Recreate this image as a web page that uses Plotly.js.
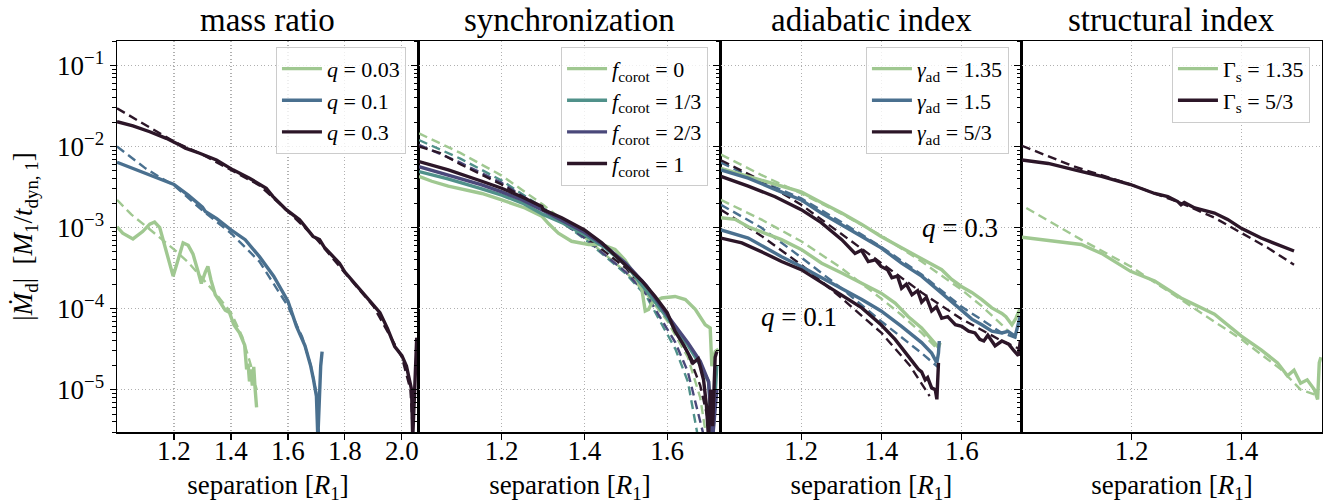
<!DOCTYPE html>
<html>
<head>
<meta charset="utf-8">
<script src="https://cdn.plot.ly/plotly-3.0.1.min.js"></script>
<style>
html,body{margin:0;padding:0;background:#fff;}
#chart{width:1323px;height:504px;}
</style>
</head>
<body>
<div id="chart"></div>
<script>
// ---------- Panel 1: mass ratio ----------
const sepQ003 = [1.0,1.02,1.056,1.09,1.115,1.132,1.15,1.175,1.197,1.21,1.232,1.25,1.267,1.285,1.296,1.31,1.319,1.33,1.345,1.36,1.38,1.395,1.41,1.43,1.448,1.455,1.46,1.465,1.47,1.475,1.48,1.485,1.49];
const mdotQ003 = [1.02e-3,8.51e-4,7.24e-4,8.91e-4,1.10e-3,1.17e-3,1.0e-3,5.0e-4,2.51e-4,3.55e-4,6.46e-4,6.03e-4,4.68e-4,2.82e-4,2.04e-4,2.82e-4,3.31e-4,2.24e-4,1.48e-4,1.23e-4,9.55e-5,8.91e-5,6.31e-5,5.01e-5,3.55e-5,1.78e-5,2.09e-5,1.26e-5,1.78e-5,1.12e-5,1.91e-5,1.0e-5,6.03e-6];
const sepQ003Fit = [1.0,1.05,1.1,1.15,1.2,1.25,1.3,1.35,1.4,1.44,1.47,1.49];
const mdotQ003Fit = [2.19e-3,1.45e-3,1.05e-3,7.59e-4,5.37e-4,3.72e-4,2.34e-4,1.48e-4,8.91e-5,4.47e-5,2.0e-5,1.0e-5];

const sepQ01 = [1.0,1.1,1.2,1.25,1.3,1.31,1.35,1.4,1.45,1.5,1.55,1.6,1.63,1.66,1.68,1.69,1.70,1.705,1.71,1.715,1.72];
const mdotQ01 = [6.38e-3,4.68e-3,3.39e-3,2.51e-3,1.78e-3,1.58e-3,1.29e-3,9.33e-4,7.08e-4,4.37e-4,2.51e-4,1.23e-4,6.03e-5,3.47e-5,1.95e-5,1.32e-5,8.32e-6,2.51e-6,7.59e-6,1.95e-5,2.95e-5];
const sepQ01Fit = [1.0,1.05,1.1,1.15,1.2,1.3,1.4,1.5,1.6,1.65,1.68,1.7,1.71];
const mdotQ01Fit = [1.0e-2,7.24e-3,5.37e-3,4.17e-3,3.31e-3,1.62e-3,8.51e-4,3.80e-4,1.07e-4,4.47e-5,2.0e-5,8.91e-6,2.51e-6];

const sepQ03 = [1.0,1.056,1.115,1.173,1.22,1.24,1.29,1.349,1.407,1.465,1.524,1.547,1.594,1.641,1.688,1.711,1.729,1.746,1.781,1.80,1.85,1.90,1.923,1.95,1.975,2.0,2.016,2.034,2.038,2.045,2.052,2.056];
const mdotQ03 = [2.02e-2,1.79e-2,1.52e-2,1.26e-2,1.045e-2,9.55e-3,8.24e-3,6.82e-3,5.14e-3,4.06e-3,3.05e-3,2.42e-3,1.66e-3,1.245e-3,7.76e-4,7.08e-4,5.62e-4,4.84e-4,3.63e-4,2.82e-4,1.78e-4,1.12e-4,8.91e-5,5.62e-5,3.39e-5,2.63e-5,1.95e-5,1.0e-5,2.51e-6,1.0e-5,4.37e-5,2.51e-5];
const sepQ03Fit = [1.0,1.05,1.1,1.15,1.2,1.3,1.4,1.5,1.6,1.7,1.8,1.9,2.0,2.03,2.04];
const mdotQ03Fit = [2.95e-2,2.34e-2,1.82e-2,1.45e-2,1.15e-2,7.94e-3,5.13e-3,3.31e-3,1.58e-3,7.24e-4,2.75e-4,1.07e-4,2.51e-5,1.0e-5,2.51e-6];

// ---------- Panel 2: synchronization ----------
const sepF0 = [1.0,1.031,1.071,1.152,1.2,1.256,1.297,1.313,1.337,1.369,1.41,1.442,1.474,1.498,1.523,1.539,1.547,1.555,1.563,1.587,1.619,1.644,1.668,1.692,1.704,1.708,1.716,1.724];
const mdotF0 = [4.27e-3,3.72e-3,3.24e-3,2.63e-3,2.19e-3,1.74e-3,1.38e-3,1.12e-3,8.51e-4,6.76e-4,6.17e-4,6.17e-4,5.37e-4,3.98e-4,2.51e-4,1.70e-4,9.33e-5,9.77e-5,1.17e-4,1.35e-4,1.41e-4,1.29e-4,9.77e-5,6.31e-5,5.75e-5,1.95e-5,2.95e-5,3.16e-5];
const sepF13 = [1.0,1.07,1.15,1.2,1.25,1.3,1.35,1.4,1.45,1.5,1.55,1.6,1.65,1.68,1.70,1.71,1.72];
const mdotF13 = [4.90e-3,3.98e-3,3.02e-3,2.51e-3,2.0e-3,1.45e-3,1.12e-3,8.13e-4,5.62e-4,3.47e-4,1.66e-4,7.59e-5,3.55e-5,2.0e-5,1.26e-5,2.51e-6,2.0e-5];
const sepF23 = [1.0,1.07,1.15,1.2,1.25,1.3,1.35,1.4,1.45,1.5,1.55,1.6,1.65,1.68,1.70,1.71,1.72];
const mdotF23 = [5.62e-3,4.47e-3,3.39e-3,2.75e-3,2.19e-3,1.62e-3,1.20e-3,8.71e-4,5.89e-4,3.63e-4,1.91e-4,8.32e-5,3.80e-5,2.24e-5,1.26e-5,2.51e-6,1.0e-5];
const sepF1 = [1.0,1.071,1.152,1.2,1.248,1.297,1.30,1.345,1.4,1.442,1.49,1.539,1.571,1.6,1.619,1.64,1.663,1.675,1.688,1.695,1.70,1.705,1.71,1.716,1.72];
const mdotF1 = [6.52e-3,5.13e-3,3.72e-3,3.05e-3,2.40e-3,1.82e-3,1.66e-3,1.32e-3,9.33e-4,6.46e-4,3.80e-4,2.19e-4,1.41e-4,8.91e-5,5.25e-5,3.55e-5,2.14e-5,2.40e-5,1.32e-5,6.31e-6,2.51e-6,1.0e-5,3.55e-6,2.51e-5,2.95e-5];

const sepF0Fit = [1.0,1.1,1.2,1.3,1.4,1.5,1.55,1.6,1.65,1.68,1.695];
const mdotF0Fit = [1.45e-2,8.32e-3,4.37e-3,1.91e-3,7.59e-4,2.82e-4,1.51e-4,7.08e-5,2.51e-5,7.94e-6,2.51e-6];
const sepF13Fit = [1.0,1.1,1.2,1.3,1.4,1.5,1.55,1.583,1.62,1.65,1.663,1.675];
const mdotF13Fit = [1.20e-2,7.08e-3,3.80e-3,1.74e-3,7.24e-4,2.69e-4,1.41e-4,6.92e-5,3.16e-5,1.26e-5,5.13e-6,2.51e-6];
const sepF23Fit = [1.0,1.1,1.2,1.3,1.4,1.5,1.55,1.583,1.62,1.65,1.68,1.69];
const mdotF23Fit = [1.05e-2,6.31e-3,3.55e-3,1.70e-3,7.41e-4,2.82e-4,1.48e-4,7.94e-5,3.80e-5,1.66e-5,4.27e-6,2.51e-6];
const sepF1Fit = [1.0,1.05,1.1,1.2,1.3,1.4,1.5,1.55,1.6,1.65,1.68,1.7,1.705];
const mdotF1Fit = [1.0e-2,8.32e-3,6.03e-3,3.39e-3,1.70e-3,7.94e-4,3.16e-4,1.66e-4,7.94e-5,2.82e-5,1.12e-5,3.98e-6,2.51e-6];

// ---------- Panel 3: adiabatic index (q = 0.3 and q = 0.1) ----------
const sepG135q03 = [1.0,1.068,1.15,1.2,1.25,1.301,1.35,1.399,1.45,1.50,1.55,1.575,1.60,1.625,1.65,1.675,1.70,1.71,1.725,1.735,1.745];
const mdotG135q03 = [5.37e-3,4.27e-3,3.31e-3,2.75e-3,2.04e-3,1.51e-3,1.10e-3,7.76e-4,5.62e-4,4.17e-4,3.02e-4,2.29e-4,1.86e-4,1.58e-4,1.29e-4,1.02e-4,8.71e-5,7.94e-5,6.31e-5,7.59e-5,1.0e-4];
const sepG135q03Fit = [1.0,1.1,1.2,1.3,1.4,1.5,1.6,1.65,1.7,1.72];
const mdotG135q03Fit = [7.94e-3,4.47e-3,2.63e-3,1.48e-3,7.94e-4,3.80e-4,1.70e-4,1.07e-4,6.31e-5,5.01e-5];
const sepG15q03 = [1.0,1.068,1.13,1.2,1.25,1.301,1.35,1.399,1.45,1.50,1.55,1.60,1.625,1.65,1.675,1.70,1.715,1.733,1.741,1.746];
const mdotG15q03 = [5.13e-3,4.07e-3,3.02e-3,2.19e-3,1.51e-3,1.07e-3,7.76e-4,5.62e-4,3.63e-4,2.51e-4,1.55e-4,9.33e-5,7.41e-5,6.31e-5,5.25e-5,5.01e-5,5.25e-5,4.57e-5,6.31e-5,8.13e-5];
const sepG15q03Fit = [1.0,1.1,1.2,1.3,1.4,1.5,1.6,1.7,1.745];
const mdotG15q03Fit = [6.31e-3,3.72e-3,2.29e-3,1.17e-3,5.75e-4,2.63e-4,1.05e-4,5.01e-5,4.17e-5];
const sepG53q03 = [1.0,1.068,1.135,1.2,1.25,1.301,1.334,1.35,1.367,1.385,1.399,1.415,1.426,1.44,1.45,1.462,1.476,1.49,1.50,1.512,1.525,1.537,1.55,1.565,1.584,1.60,1.617,1.633,1.645,1.655,1.665,1.683,1.70,1.717,1.73,1.741,1.746];
const mdotG53q03 = [4.27e-3,3.24e-3,2.40e-3,1.66e-3,1.15e-3,7.08e-4,4.79e-4,5.25e-4,3.80e-4,3.98e-4,3.31e-4,3.02e-4,2.40e-4,2.51e-4,1.78e-4,2.0e-4,1.48e-4,1.66e-4,1.20e-4,1.38e-4,9.33e-5,1.05e-4,7.59e-5,7.94e-5,6.31e-5,6.03e-5,5.25e-5,5.01e-5,4.17e-5,3.98e-5,4.68e-5,3.47e-5,3.98e-5,3.63e-5,3.02e-5,2.63e-5,3.98e-5];
const sepG53q03Fit = [1.0,1.1,1.2,1.3,1.4,1.5,1.6,1.7,1.745];
const mdotG53q03Fit = [6.76e-3,3.80e-3,1.91e-3,8.32e-4,3.72e-4,1.58e-4,7.41e-5,3.98e-5,3.16e-5];

const sepG135q01 = [1.0,1.035,1.068,1.11,1.151,1.2,1.251,1.301,1.351,1.399,1.434,1.467,1.50,1.525,1.542,1.546];
const mdotG135q01 = [1.32e-3,1.26e-3,1.02e-3,8.51e-4,7.08e-4,5.37e-4,3.63e-4,2.75e-4,2.04e-4,1.55e-4,1.17e-4,7.94e-5,5.75e-5,4.17e-5,3.31e-5,3.80e-5];
const sepG135q01Fit = [1.0,1.1,1.2,1.3,1.4,1.45,1.5,1.54];
const mdotG135q01Fit = [2.19e-3,1.26e-3,6.76e-4,3.16e-4,1.32e-4,8.32e-5,5.01e-5,3.16e-5];
const sepG15q01 = [1.0,1.068,1.151,1.2,1.251,1.301,1.351,1.399,1.45,1.50,1.525,1.538,1.542,1.544];
const mdotG15q01 = [9.33e-4,7.41e-4,4.37e-4,3.31e-4,2.40e-4,1.78e-4,1.29e-4,9.33e-5,6.03e-5,3.80e-5,2.82e-5,2.14e-5,2.82e-5,3.98e-5];
const sepG15q01Fit = [1.0,1.1,1.2,1.3,1.4,1.5,1.54];
const mdotG15q01Fit = [1.91e-3,1.0e-3,4.27e-4,1.78e-4,6.92e-5,2.82e-5,1.91e-5];
const sepG53q01 = [1.0,1.052,1.11,1.151,1.2,1.251,1.301,1.351,1.399,1.434,1.467,1.492,1.50,1.509,1.515,1.525,1.534,1.538,1.542];
const mdotG53q01 = [7.41e-4,6.46e-4,4.79e-4,3.80e-4,3.02e-4,2.09e-4,1.48e-4,1.02e-4,6.31e-5,4.17e-5,2.57e-5,1.78e-5,1.66e-5,1.32e-5,1.41e-5,1.05e-5,1.0e-5,7.59e-6,2.14e-5];
const sepG53q01Fit = [1.0,1.1,1.2,1.3,1.4,1.47,1.52];
const mdotG53q01Fit = [1.66e-3,7.94e-4,3.47e-4,1.35e-4,5.01e-5,2.0e-5,8.32e-6];

// ---------- Panel 4: structural index ----------
const sepS135 = [1.0,1.06,1.108,1.145,1.198,1.242,1.29,1.351,1.375,1.40,1.436,1.466,1.484,1.496,1.508,1.52,1.533,1.539,1.542,1.545];
const mdotS135 = [7.59e-4,6.76e-4,6.17e-4,4.79e-4,2.88e-4,2.19e-4,1.35e-4,8.51e-5,6.31e-5,4.57e-5,3.09e-5,2.14e-5,1.48e-5,1.74e-5,1.20e-5,1.32e-5,1.0e-5,7.59e-6,2.14e-5,2.51e-5];
const sepS135Fit = [1.008,1.108,1.198,1.29,1.40,1.472,1.508,1.533];
const mdotS135Fit = [1.74e-3,7.08e-4,3.31e-4,1.29e-4,4.17e-5,1.78e-5,1.0e-5,8.71e-6];
const sepS53 = [1.0,1.048,1.096,1.145,1.198,1.242,1.266,1.284,1.29,1.296,1.315,1.351,1.375,1.40,1.436,1.466,1.496];
const mdotS53 = [6.82e-3,6.17e-3,5.13e-3,4.27e-3,3.39e-3,2.63e-3,2.40e-3,2.09e-3,1.91e-3,2.04e-3,1.74e-3,1.51e-3,1.26e-3,9.77e-4,7.41e-4,6.17e-4,5.13e-4];
const sepS53Fit = [1.0,1.096,1.198,1.29,1.351,1.40,1.448,1.496];
const mdotS53Fit = [1.02e-2,5.62e-3,3.39e-3,2.0e-3,1.32e-3,8.51e-4,5.62e-4,3.47e-4];

// tick labels
const panelTitles = ["mass ratio","synchronization","adiabatic index","structural index"];
const yTickVals = [1e-5,1e-4,1e-3,1e-2,1e-1];
const yTickText = ["10<sup>\u22125</sup>","10<sup>\u22124</sup>","10<sup>\u22123</sup>","10<sup>\u22122</sup>","10<sup>\u22121</sup>"];
const xTicks1 = [1.2,1.4,1.6,1.8,2.0];
const xTicks2 = [1.2,1.4,1.6];
const xTicks3 = [1.2,1.4,1.6];
const xTicks4 = [1.2,1.4];

// colours
const cGreen = "#a0c891", cBlue = "#4a708f", cDark = "#2c1628", cTeal = "#50918a", cPurple = "#4a487a";
const FONT = "Liberation Serif";

const traces = [];
function solid(x, y, color, name, ax, leg) {
  traces.push({x, y, type:"scatter", mode:"lines", name, line:{color, width:3.4}, xaxis:"x"+ax, yaxis:"y"+ax, legend:leg, showlegend:true, hoverinfo:"skip"});
}
function dashed(x, y, color, ax) {
  traces.push({x, y, type:"scatter", mode:"lines", line:{color, width:2.4, dash:"9px,5px"}, xaxis:"x"+ax, yaxis:"y"+ax, showlegend:false, hoverinfo:"skip"});
}
// panel 1
dashed(sepQ003Fit, mdotQ003Fit, cGreen, "");
dashed(sepQ01Fit, mdotQ01Fit, cBlue, "");
dashed(sepQ03Fit, mdotQ03Fit, cDark, "");
solid(sepQ003, mdotQ003, cGreen, "<i>q</i> = 0.03", "", "legend");
solid(sepQ01, mdotQ01, cBlue, "<i>q</i> = 0.1", "", "legend");
solid(sepQ03, mdotQ03, cDark, "<i>q</i> = 0.3", "", "legend");
// panel 2
dashed(sepF0Fit, mdotF0Fit, cGreen, "2");
dashed(sepF13Fit, mdotF13Fit, cTeal, "2");
dashed(sepF23Fit, mdotF23Fit, cPurple, "2");
dashed(sepF1Fit, mdotF1Fit, cDark, "2");
solid(sepF0, mdotF0, cGreen, "<i>f</i><sub>corot</sub> = 0", "2", "legend2");
solid(sepF13, mdotF13, cTeal, "<i>f</i><sub>corot</sub> = 1/3", "2", "legend2");
solid(sepF23, mdotF23, cPurple, "<i>f</i><sub>corot</sub> = 2/3", "2", "legend2");
solid(sepF1, mdotF1, cDark, "<i>f</i><sub>corot</sub> = 1", "2", "legend2");
// panel 3
dashed(sepG135q03Fit, mdotG135q03Fit, cGreen, "3");
dashed(sepG15q03Fit, mdotG15q03Fit, cBlue, "3");
dashed(sepG53q03Fit, mdotG53q03Fit, cDark, "3");
dashed(sepG135q01Fit, mdotG135q01Fit, cGreen, "3");
dashed(sepG15q01Fit, mdotG15q01Fit, cBlue, "3");
dashed(sepG53q01Fit, mdotG53q01Fit, cDark, "3");
solid(sepG135q03, mdotG135q03, cGreen, "<i>\u03b3</i><sub>ad</sub> = 1.35", "3", "legend3");
solid(sepG15q03, mdotG15q03, cBlue, "<i>\u03b3</i><sub>ad</sub> = 1.5", "3", "legend3");
solid(sepG53q03, mdotG53q03, cDark, "<i>\u03b3</i><sub>ad</sub> = 5/3", "3", "legend3");
traces.push({x:sepG135q01, y:mdotG135q01, type:"scatter", mode:"lines", line:{color:cGreen, width:3.4}, xaxis:"x3", yaxis:"y3", showlegend:false, hoverinfo:"skip"});
traces.push({x:sepG15q01, y:mdotG15q01, type:"scatter", mode:"lines", line:{color:cBlue, width:3.4}, xaxis:"x3", yaxis:"y3", showlegend:false, hoverinfo:"skip"});
traces.push({x:sepG53q01, y:mdotG53q01, type:"scatter", mode:"lines", line:{color:cDark, width:3.4}, xaxis:"x3", yaxis:"y3", showlegend:false, hoverinfo:"skip"});
// panel 4
dashed(sepS135Fit, mdotS135Fit, cGreen, "4");
dashed(sepS53Fit, mdotS53Fit, cDark, "4");
solid(sepS135, mdotS135, cGreen, "\u0393<sub>s</sub> = 1.35", "4", "legend4");
solid(sepS53, mdotS53, cDark, "\u0393<sub>s</sub> = 5/3", "4", "legend4");

// minor log ticks
const minorVals = [];
for (let e = -6; e <= -1; e++) for (let k = 2; k <= 9; k++) minorVals.push(k * Math.pow(10, e));

const bounds = [0, 0.2506, 0.5012, 0.7510, 1.0];
const xRanges = [[1.0, 2.06], [1.0, 1.730], [1.0, 1.75], [1.0, 1.547]];
const xTickSets = [xTicks1, xTicks2, xTicks3, xTicks4];

const layout = {
  width: 1323, height: 504,
  margin: {l:117, r:1, t:41, b:72},
  paper_bgcolor: "#ffffff", plot_bgcolor: "#ffffff",
  font: {family: FONT, size: 27, color: "#000"},
  annotations: [],
  hovermode: false
};
for (let i = 0; i < 4; i++) {
  const s = i === 0 ? "" : String(i + 1);
  layout["xaxis" + s] = {
    domain: [bounds[i], bounds[i + 1]], range: xRanges[i], anchor: "y" + s,
    tickmode: "array", tickvals: xTickSets[i], ticktext: xTickSets[i].map(v => v.toFixed(1)),
    ticks: "outside", ticklen: 6, tickwidth: 1.2, tickcolor: "#000",
    ticklabelstandoff: -12,
    showline: true, mirror: true, linecolor: "#000", linewidth: 1.5,
    showgrid: true, gridcolor: "#b0b0b0", griddash: "1px,2.5px", gridwidth: 1.2,
    zeroline: false, tickfont: {family: FONT, size: 27, color: "#000"},
    automargin: false,
    title: {text: "separation [<i>R</i><sub>1</sub>]", font: {family: FONT, size: 27, color: "#000"}, standoff: 15}
  };
  layout["yaxis" + s] = {
    type: "log", domain: [0, 1], anchor: "x" + s,
    range: [Math.log10(3e-6), Math.log10(0.2)],
    tickmode: "array", tickvals: yTickVals, ticktext: yTickText,
    showticklabels: i === 0,
    ticks: "outside", ticklen: 6, tickwidth: 1.2, tickcolor: "#000",
    minor: {tickmode: "array", tickvals: minorVals, ticks: "outside", ticklen: 3.5, tickwidth: 1, tickcolor: "#000", showgrid: false},
    showline: true, mirror: true, linecolor: "#000", linewidth: 1.5,
    showgrid: true, gridcolor: "#b0b0b0", griddash: "1px,2.5px", gridwidth: 1.2,
    zeroline: false, tickfont: {family: FONT, size: 27, color: "#000"},
    automargin: false
  };
  layout.annotations.push({
    text: panelTitles[i], xref: "paper", yref: "paper",
    x: (bounds[i] + bounds[i + 1]) / 2, y: 1, xanchor: "center", yanchor: "bottom", yshift: 1,
    showarrow: false, font: {family: FONT, size: 33, color: "#000"}
  });
}
layout.yaxis.title = {text: "|<i>\u1E40</i><sub>d</sub>|\u00a0\u00a0[<i>M</i><sub>1</sub>/<i>t</i><sub>dyn, 1</sub>]", font: {family: FONT, size: 27, color: "#000"}, standoff: 16};

layout.annotations.push({text: "<i>q</i> = 0.3", xref: "x3", yref: "y3", x: 1.596, y: -3.0, xanchor: "center", yanchor: "middle", showarrow: false, font: {family: FONT, size: 27, color: "#000"}});
layout.annotations.push({text: "<i>q</i> = 0.1", xref: "x3", yref: "y3", x: 1.195, y: -4.11, xanchor: "center", yanchor: "middle", showarrow: false, font: {family: FONT, size: 27, color: "#000"}});

const legendBase = {bgcolor: "rgba(255,255,255,0.8)", bordercolor: "#cccccc", borderwidth: 1, yanchor: "top", xanchor: "right", y: 0.985, tracegroupgap: 0, itemwidth: 40};
layout.legend = Object.assign({}, legendBase, {x: 0.2398, font: {family: FONT, size: 22, color: "#000"}});
layout.legend2 = Object.assign({}, legendBase, {x: 0.4905, font: {family: FONT, size: 22, color: "#000"}});
layout.legend3 = Object.assign({}, legendBase, {x: 0.7402, font: {family: FONT, size: 22, color: "#000"}});
layout.legend4 = Object.assign({}, legendBase, {x: 0.990, font: {family: FONT, size: 22, color: "#000"}});

Plotly.newPlot("chart", traces, layout, {displayModeBar: false, staticPlot: true});
</script>
</body>
</html>
